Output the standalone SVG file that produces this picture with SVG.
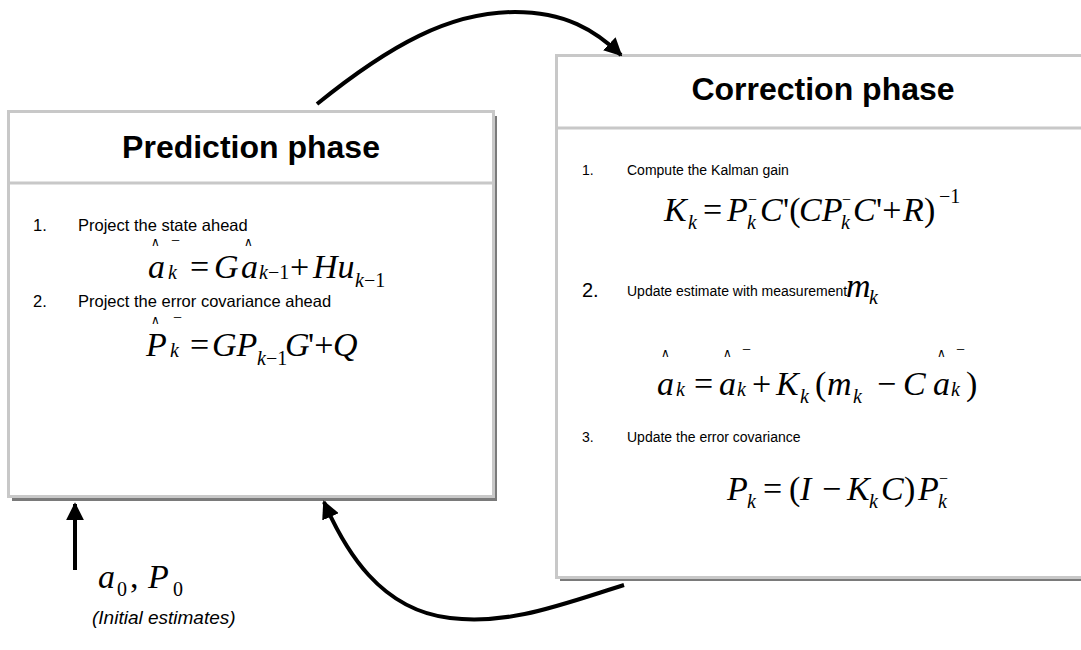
<svg xmlns="http://www.w3.org/2000/svg" width="1081" height="650" viewBox="0 0 1081 650">
<style>
.box{fill:#fff;stroke:#c8c8c8;stroke-width:3}
.div{stroke:#c8c8c8;stroke-width:3}
.sh{fill:#7a7a7a}
.title{font-family:"Liberation Sans",Arial,sans-serif;font-weight:bold;font-size:32px;fill:#000;text-anchor:middle}
.t{font-family:"Liberation Sans",Arial,sans-serif;font-size:16.5px;fill:#000}
.tc{font-family:"Liberation Sans",Arial,sans-serif;font-size:14px;fill:#000}
.m{font-family:"Liberation Serif","Times New Roman",serif;font-style:italic;font-size:34px;fill:#000}
.r{font-family:"Liberation Serif","Times New Roman",serif;font-size:34px;fill:#000}
.s{font-family:"Liberation Serif","Times New Roman",serif;font-style:italic;font-size:20px;fill:#000}
.sr{font-family:"Liberation Serif","Times New Roman",serif;font-size:20px;fill:#000}
.mn{font-family:"Liberation Serif","Times New Roman",serif;font-size:16px;fill:#000}
.h{font-family:"Liberation Sans",Arial,sans-serif;font-size:12px;fill:#000}
.conn{fill:none;stroke:#000;stroke-width:4}
</style>
<defs>
<marker id="ah" viewBox="0 0 10 10" refX="9" refY="5" markerWidth="4.5" markerHeight="4.5" orient="auto" markerUnits="strokeWidth">
<path d="M0,0 L10,5 L0,10 z" fill="#000"/>
</marker>
</defs>
<rect width="1081" height="650" fill="#fff"/>

<g id="prediction">
<rect class="sh" x="12" y="116" width="485" height="385"/>
<rect class="box" x="8.5" y="111.5" width="485" height="385"/>
<line class="div" x1="8.5" y1="183" x2="493.5" y2="183"/>
<text class="title" x="251" y="158">Prediction phase</text>
<text class="t" x="33" y="231">1.</text>
<text class="t" x="78" y="231">Project the state ahead</text>
<g>
<text class="h" x="151" y="246">∧</text>
<text class="mn" x="171" y="246" font-size="12">−</text>
<text class="m" x="148" y="278">a</text>
<text class="s" x="168" y="279">k</text>
<text class="r" x="190" y="278">=</text>
<text class="m" x="214" y="278">G</text>
<text class="h" x="244" y="246">∧</text>
<text class="m" x="241" y="278">a</text>
<text class="s" x="259" y="279">k</text>
<text class="sr" x="268" y="279">−1</text>
<text class="r" x="290" y="278">+</text>
<text class="m" x="313" y="278">Hu</text>
<text class="s" x="355" y="287">k</text>
<text class="sr" x="364" y="287">−1</text>
</g>
<text class="t" x="33" y="307">2.</text>
<text class="t" x="78" y="307">Project the error covariance ahead</text>
<g>
<text class="h" x="151" y="324">∧</text>
<text class="mn" x="173" y="323">−</text>
<text class="m" x="146" y="356">P</text>
<text class="s" x="170" y="357">k</text>
<text class="r" x="190" y="356">=</text>
<text class="m" x="212" y="356">GP</text>
<text class="s" x="257" y="365">k</text>
<text class="sr" x="266" y="365">−1</text>
<text class="m" x="285" y="356">G</text>
<text class="r" x="308" y="356">'+</text>
<text class="m" x="333" y="356">Q</text>
</g>
</g>

<g id="correction">
<rect class="sh" x="560" y="59" width="530" height="522"/>
<rect class="box" x="556.5" y="55.5" width="530" height="522"/>
<line class="div" x1="556.5" y1="128" x2="1081" y2="128"/>
<text class="title" x="823" y="100">Correction phase</text>
<text class="tc" x="582" y="175">1.</text>
<text class="tc" x="627" y="175">Compute the Kalman gain</text>
<g>
<text class="m" x="664" y="221">K</text>
<text class="s" x="688" y="229">k</text>
<text class="r" x="703" y="221">=</text>
<text class="m" x="727" y="221">P</text>
<text class="s" x="747" y="229">k</text>
<text class="mn" x="748" y="205">−</text>
<text class="m" x="760" y="221">C</text>
<text class="r" x="783" y="221">'(</text>
<text class="m" x="799" y="221">CP</text>
<text class="s" x="841" y="229">k</text>
<text class="mn" x="842" y="205">−</text>
<text class="m" x="853" y="221">C</text>
<text class="r" x="876" y="221">'+</text>
<text class="m" x="903" y="221">R</text>
<text class="r" x="924" y="221">)</text>
<text class="sr" x="939" y="203" font-size="22">−1</text>
</g>
<text font-family="Liberation Sans,Arial,sans-serif" font-size="20" x="582" y="297">2.</text>
<text class="tc" x="627" y="296" font-size="12">Update estimate with measurement</text>
<text class="m" x="846" y="297" font-size="30">m</text>
<text class="s" x="869" y="304">k</text>
<g>
<text class="h" x="661" y="357">∧</text>
<text class="m" x="657" y="395">a</text>
<text class="s" x="676" y="396">k</text>
<text class="r" x="694" y="395">=</text>
<text class="h" x="723" y="357">∧</text>
<text class="mn" x="742" y="355">−</text>
<text class="m" x="719" y="395">a</text>
<text class="s" x="737" y="396">k</text>
<text class="r" x="752" y="395">+</text>
<text class="m" x="776" y="395">K</text>
<text class="s" x="800" y="403">k</text>
<text class="r" x="815" y="395">(</text>
<text class="m" x="827" y="395">m</text>
<text class="s" x="853" y="403">k</text>
<text class="r" x="877" y="395">−</text>
<text class="m" x="903" y="395">C</text>
<text class="h" x="937" y="357">∧</text>
<text class="mn" x="956" y="355">−</text>
<text class="m" x="933" y="395">a</text>
<text class="s" x="951" y="396">k</text>
<text class="r" x="966" y="395">)</text>
</g>
<text class="tc" x="582" y="442">3.</text>
<text class="tc" x="627" y="442">Update the error covariance</text>
<g>
<text class="m" x="727" y="500">P</text>
<text class="s" x="747" y="508">k</text>
<text class="r" x="763" y="500">=</text>
<text class="r" x="789" y="500">(</text>
<text class="m" x="800" y="500">I</text>
<text class="r" x="822" y="500">−</text>
<text class="m" x="847" y="500">K</text>
<text class="s" x="869" y="508">k</text>
<text class="m" x="881" y="500">C</text>
<text class="r" x="904" y="500">)</text>
<text class="m" x="918" y="500">P</text>
<text class="s" x="938" y="508">k</text>
<text class="mn" x="939" y="484">−</text>
</g>
</g>

<g id="initial">
<text class="m" x="98" y="588" font-size="36">a</text>
<text class="sr" x="117" y="596" font-size="22">0</text>
<text class="r" x="130" y="588" font-size="36">,</text>
<text class="m" x="148" y="588" font-size="36">P</text>
<text class="sr" x="173" y="596" font-size="22">0</text>
<text font-family="Liberation Sans,Arial,sans-serif" font-style="italic" font-size="19" x="92" y="624">(Initial estimates)</text>
</g>

<g id="connectors">
<path class="conn" d="M317,104 C390,45 450,12 515,12 C565,12 595,30 621,55" marker-end="url(#ah)"/>
<path class="conn" d="M624,585 C560,605 510,625 450,618 C380,610 345,550 324,502" marker-end="url(#ah)"/>
<line class="conn" x1="75" y1="570" x2="75" y2="504" marker-end="url(#ah)"/>
</g>
</svg>
